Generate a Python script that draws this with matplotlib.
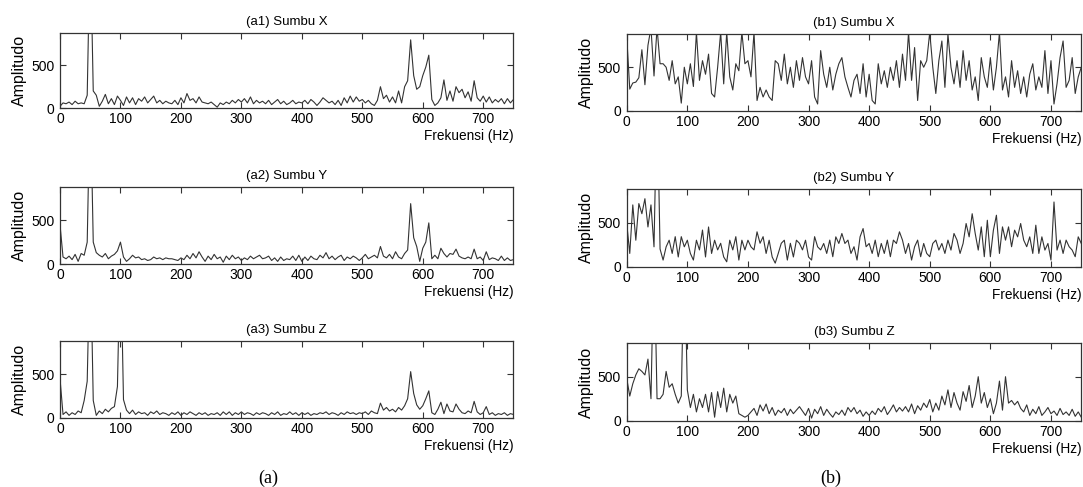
import numpy as np
import matplotlib.pyplot as plt

# frequency grid (Hz), one value every 5 Hz
freq = list(range(0, 755, 5))

amp_a1 = [20, 60, 50, 70, 40, 80, 50, 60, 50, 150,
          2000, 200, 150, 20, 80, 160, 50, 110, 40, 140,
          90, 30, 130, 60, 120, 40, 110, 80, 130, 60,
          100, 140, 60, 90, 50, 80, 60, 50, 90, 40,
          120, 60, 170, 90, 110, 60, 130, 70, 60, 50,
          70, 40, 10, 60, 40, 70, 50, 90, 60, 100,
          70, 110, 60, 130, 50, 90, 60, 80, 50, 90,
          40, 70, 100, 50, 80, 40, 60, 90, 50, 70,
          60, 90, 50, 100, 70, 30, 70, 120, 90, 60,
          80, 40, 90, 30, 120, 60, 140, 70, 130, 80,
          100, 60, 90, 50, 30, 90, 250, 110, 150, 70,
          130, 60, 200, 60, 250, 320, 800, 380, 220, 250,
          380, 480, 620, 100, 30, 60, 120, 330, 90, 200,
          80, 250, 180, 220, 120, 190, 80, 320, 120, 80,
          140, 70, 130, 60, 100, 70, 110, 50, 110, 60,
          100]

amp_a2 = [450, 80, 60, 90, 50, 110, 30, 120, 100, 250,
          2000, 250, 130, 100, 80, 120, 60, 90, 110, 150,
          250, 80, 30, 60, 100, 70, 80, 50, 60, 40,
          50, 80, 60, 70, 50, 70, 60, 60, 50, 40,
          70, 50, 100, 60, 120, 70, 140, 80, 30, 90,
          50, 110, 60, 80, 20, 90, 50, 100, 60, 80,
          40, 70, 50, 90, 60, 80, 100, 60, 70, 90,
          40, 70, 30, 80, 40, 60, 50, 90, 40, 100,
          30, 80, 40, 90, 60, 50, 100, 70, 130, 60,
          90, 50, 80, 100, 40, 80, 60, 90, 70, 40,
          70, 110, 60, 80, 100, 70, 200, 90, 70, 110,
          60, 140, 80, 60, 120, 160, 690, 300, 200, 30,
          180, 250, 470, 60, 100, 60, 180, 120, 80, 120,
          110, 170, 90, 70, 60, 80, 60, 170, 60, 80,
          40, 140, 50, 70, 60, 40, 90, 40, 70, 40,
          50]

amp_a3 = [450, 40, 70, 30, 60, 40, 80, 60, 200, 420,
          2000, 200, 30, 80, 50, 100, 70, 110, 130, 360,
          2000, 210, 90, 50, 90, 40, 70, 50, 60, 30,
          70, 50, 80, 40, 60, 50, 30, 60, 40, 70,
          30, 60, 40, 70, 50, 30, 60, 40, 60, 30,
          50, 40, 60, 30, 70, 40, 70, 30, 60, 40,
          70, 40, 60, 50, 30, 60, 40, 60, 50, 30,
          60, 40, 70, 30, 50, 40, 70, 40, 60, 30,
          60, 40, 60, 30, 50, 40, 60, 50, 70, 40,
          60, 50, 30, 60, 40, 70, 50, 60, 40, 60,
          50, 70, 40, 80, 60, 50, 170, 90, 120, 80,
          100, 70, 120, 90, 140, 220, 530, 280, 150, 100,
          140, 220, 310, 60, 40, 100, 180, 50, 160, 80,
          70, 160, 100, 60, 50, 80, 60, 190, 70, 40,
          60, 130, 40, 60, 30, 50, 40, 60, 30, 50,
          40]

amp_b1 = [850, 250, 320, 330, 380, 700, 300, 750, 950, 400,
          950, 540, 540, 500, 350, 575, 310, 390, 90, 500,
          310, 540, 280, 900, 350, 575, 420, 650, 200, 160,
          500, 900, 310, 900, 390, 240, 540, 460, 900, 540,
          575, 390, 900, 120, 270, 160, 240, 160, 120, 575,
          540, 350, 650, 310, 500, 270, 575, 350, 610, 390,
          310, 575, 160, 80, 690, 420, 270, 500, 240, 420,
          540, 610, 390, 270, 160, 350, 420, 200, 540, 160,
          420, 120, 80, 540, 310, 460, 270, 500, 350, 575,
          270, 650, 350, 900, 350, 725, 120, 575, 500, 575,
          900, 500, 200, 575, 800, 270, 880, 500, 310, 575,
          270, 690, 350, 575, 240, 390, 120, 610, 390, 270,
          610, 240, 500, 900, 240, 390, 160, 575, 270, 460,
          200, 390, 160, 420, 540, 240, 390, 270, 690, 200,
          575, 80, 310, 610, 800, 270, 350, 610, 200, 390,
          500]

amp_b2 = [490, 150, 700, 300, 715, 600, 770, 450, 700, 225,
          2000, 200, 75, 225, 300, 150, 340, 110, 340, 225,
          300, 150, 75, 300, 190, 415, 110, 450, 150, 300,
          190, 265, 110, 55, 300, 190, 340, 75, 300, 190,
          300, 225, 190, 395, 265, 340, 150, 300, 110, 40,
          150, 265, 300, 75, 265, 110, 300, 265, 190, 300,
          110, 75, 340, 225, 190, 263, 150, 301, 113, 338,
          263, 376, 263, 301, 150, 226, 75, 338, 432, 226,
          263, 150, 301, 113, 263, 150, 301, 113, 301, 263,
          395, 301, 150, 263, 75, 226, 301, 113, 263, 150,
          113, 263, 301, 188, 263, 150, 301, 188, 376, 301,
          150, 263, 489, 338, 600, 376, 188, 451, 113, 526,
          113, 414, 583, 150, 451, 301, 451, 226, 414, 338,
          489, 301, 226, 338, 150, 470, 150, 338, 188, 263,
          75, 733, 188, 301, 150, 301, 226, 188, 113, 338,
          263]

amp_b3 = [480, 280, 420, 520, 590, 560, 520, 700, 250, 2000,
          250, 250, 300, 560, 380, 420, 300, 200, 280, 2000,
          350, 150, 300, 100, 250, 150, 300, 100, 320, 40,
          330, 150, 370, 100, 300, 200, 280, 80, 60, 40,
          60, 100, 140, 60, 180, 110, 190, 80, 150, 60,
          120, 90, 140, 60, 130, 80, 120, 160, 110, 60,
          140, 30, 130, 80, 160, 60, 130, 80, 40, 100,
          70, 120, 60, 150, 100, 150, 80, 120, 50, 100,
          60, 110, 70, 140, 100, 160, 70, 120, 180, 100,
          150, 110, 160, 100, 190, 80, 170, 120, 200, 150,
          240, 100, 200, 120, 280, 180, 350, 150, 320, 200,
          120, 330, 220, 400, 150, 280, 500, 200, 320, 150,
          250, 80, 200, 450, 120, 500, 200, 230, 180, 220,
          140, 100, 180, 60, 130, 80, 160, 60, 100, 150,
          80, 110, 60, 140, 70, 100, 60, 130, 50, 100,
          40]

titles = ['(a1) Sumbu X', '(a2) Sumbu Y', '(a3) Sumbu Z',
          '(b1) Sumbu X', '(b2) Sumbu Y', '(b3) Sumbu Z']
x_ticks = [0, 100, 200, 300, 400, 500, 600, 700]
y_ticks = [0, 500]

plt.rcParams['font.family'] = ['Liberation Sans', 'DejaVu Sans']

fig = plt.figure(figsize=(10.83, 4.87), dpi=100)

# axes boxes in figure fractions: left column, right column
pos_left = [[0.0554, 0.7782, 0.4187, 0.1540],
            [0.0554, 0.4579, 0.4187, 0.1581],
            [0.0554, 0.1417, 0.4187, 0.1581]]
pos_right = [[0.5787, 0.7721, 0.4197, 0.1581],
             [0.5787, 0.4524, 0.4197, 0.1595],
             [0.5787, 0.1361, 0.4197, 0.1591]]

series = [amp_a1, amp_a2, amp_a3, amp_b1, amp_b2, amp_b3]
positions = pos_left + pos_right

for i in range(6):
    ax = fig.add_axes(positions[i])
    ax.plot(freq, series[i], color='#333333', lw=0.8)
    ax.set_xlim(0, 750)
    ax.set_ylim(0, 880)
    ax.set_xticks(x_ticks)
    ax.set_yticks(y_ticks)
    ax.tick_params(direction='in', top=True, right=True, length=4,
                   width=0.8, labelsize=10, color='#333333')
    ax.tick_params(axis='x', pad=3)
    ax.tick_params(axis='y', pad=4)
    for sp in ax.spines.values():
        sp.set_color('#333333')
        sp.set_linewidth(0.9)
    ax.set_title(titles[i], fontsize=9.5, pad=6)
    ax.set_xlabel('Frekuensi (Hz)', fontsize=9.8, loc='right', labelpad=2)
    ax.set_ylabel('Amplitudo', fontsize=11.5, labelpad=3)

fig.text(0.2475, 0.018, '(a)', family='Liberation Serif', fontsize=13,
         ha='center', va='center')
fig.text(0.767, 0.018, '(b)', family='Liberation Serif', fontsize=13,
         ha='center', va='center')

fig.savefig('out.png', dpi=100, facecolor='white')
